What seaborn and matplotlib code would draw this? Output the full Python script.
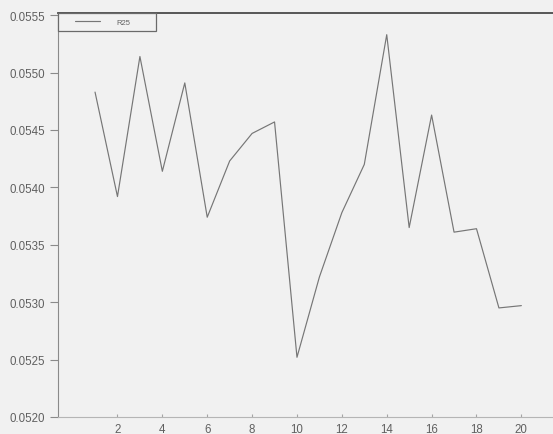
import matplotlib
matplotlib.use("Agg")
import matplotlib.pyplot as plt
from matplotlib.legend_handler import HandlerLine2D
from matplotlib.ticker import FormatStrFormatter
import seaborn as sns
import pandas as pd

# R25 series over the 20 steps
steps = list(range(1, 21))
r25 = [0.05483, 0.05392, 0.05514, 0.05414, 0.05491, 0.05374, 0.05423,
       0.05447, 0.05457, 0.05252, 0.05322, 0.05378, 0.05420, 0.05533,
       0.05365, 0.05463, 0.05361, 0.05364, 0.05295, 0.05297]
series_name = "R25"
x_ticks = [2, 4, 6, 8, 10, 12, 14, 16, 18, 20]
y_ticks = [0.0520, 0.0525, 0.0530, 0.0535, 0.0540, 0.0545, 0.0550, 0.0555]

df = pd.DataFrame({"step": steps, "value": r25})

sns.set_style("white")
plt.rcParams["font.family"] = ["Liberation Sans", "DejaVu Sans"]

bg = "#f1f1f1"
ink = "#606060"

fig = plt.figure(figsize=(5.53, 4.35), dpi=100, facecolor=bg)
ax = fig.add_axes([0.1049, 0.0391, 0.8951, 0.929], facecolor=bg)

sns.lineplot(data=df, x="step", y="value", ax=ax, color="#767676",
             linewidth=0.85, label=series_name)

ax.set_xlim(-0.65, 21.41)
ax.set_ylim(0.0520, 0.05552)
ax.set_xticks(x_ticks)
ax.set_yticks(y_ticks)
ax.yaxis.set_major_formatter(FormatStrFormatter("%.4f"))
ax.set_xlabel("")
ax.set_ylabel("")

ax.spines["right"].set_visible(False)
ax.spines["top"].set_color("#4a4a4a")
ax.spines["top"].set_linewidth(1.3)
ax.spines["left"].set_color("#8a8a8a")
ax.spines["left"].set_linewidth(0.8)
ax.spines["bottom"].set_color("#b5b5b5")
ax.spines["bottom"].set_linewidth(0.8)

ax.tick_params(axis="y", direction="out", length=6, width=0.8, color="#8a8a8a",
               pad=3.5, labelsize=8.3, labelcolor=ink, left=True)
ax.tick_params(axis="x", direction="in", length=2.5, width=0.8, color="#a5a5a5",
               pad=4, labelsize=8.3, labelcolor=ink, bottom=True)

leg = ax.legend(loc="upper left", bbox_to_anchor=(0, 1.0, 0.198, 0.0),
                mode="expand", borderaxespad=0, fontsize=5.5, frameon=True,
                fancybox=False, handlelength=4.8, handletextpad=2.2,
                borderpad=0.7,
                handler_map={plt.Line2D: HandlerLine2D(xpad=1.52)})
frame = leg.get_frame()
frame.set_edgecolor("#6a6a6a")
frame.set_linewidth(0.9)
frame.set_facecolor(bg)
frame.set_alpha(1)
for t in leg.get_texts():
    t.set_color(ink)

fig.savefig("out.png", dpi=100, facecolor=bg)
